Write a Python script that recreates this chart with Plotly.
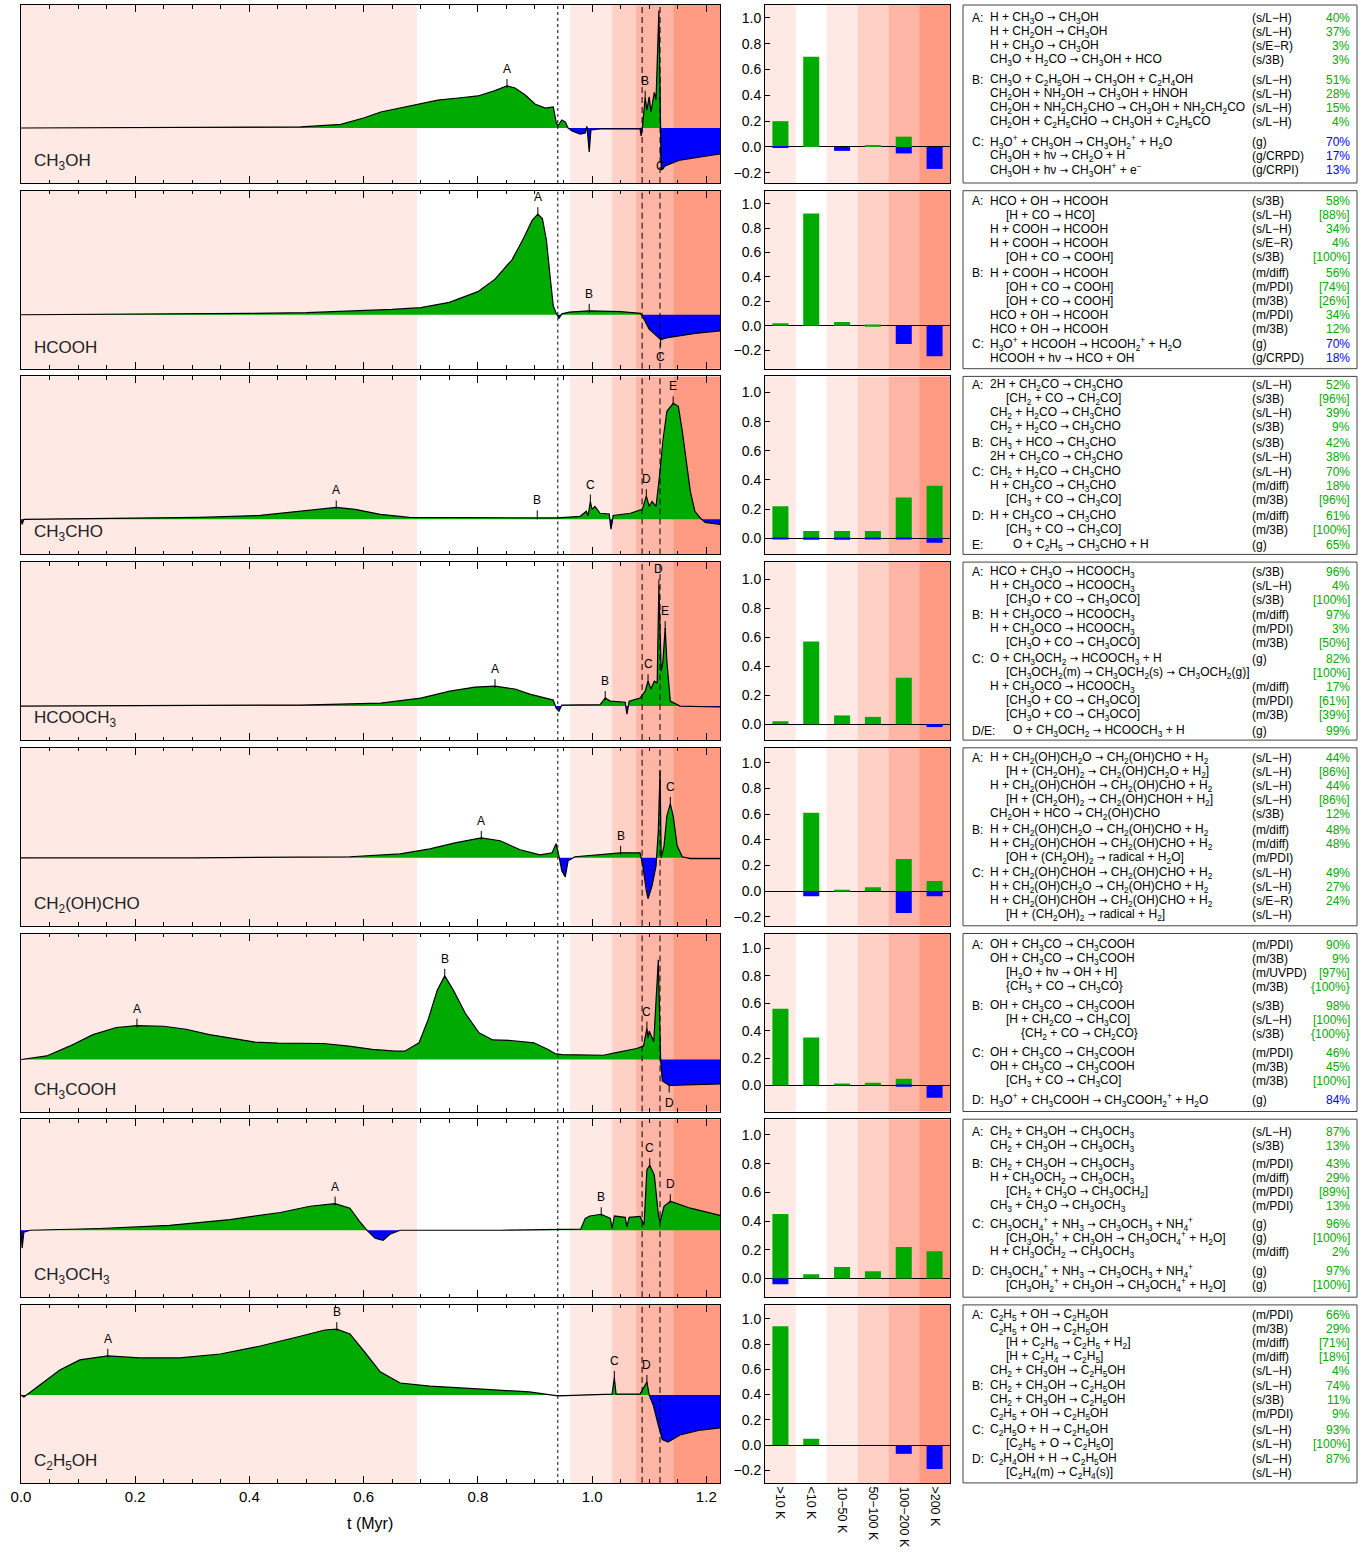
import re
import numpy as np
import plotly.graph_objects as go

# ---------------- canvas / style ----------------
W, H = 1369, 1560
FONT = "Liberation Sans, Arial, Helvetica, sans-serif"
GREEN = "#00AA00"
BLUE = "#0000FF"

# ---------------- evolutionary phases along t (Myr) ----------------
PHASE_EDGES = [0.0, 0.6935, 0.9615, 1.035, 1.077, 1.142, 1.224]
PHASE_COLORS = ["#FFE9E5", "#FFFFFF", "#FFE9E5", "#FFD1C6", "#FFB5A5", "#FF9B83"]
T_DOTTED = 0.940
T_DASHED = [1.0876, 1.119]
T_MAX = 1.224

TEMP_BINS = [">10 K", "<10 K", "10−50 K", "50−100 K", "100−200 K", ">200 K"]

MOLECULES = ["CH_3OH", "HCOOH", "CH_3CHO", "HCOOCH_3",
             "CH_2(OH)CHO", "CH_3COOH", "CH_3OCH_3", "C_2H_5OH"]

# ---------------- net formation rate vs time ----------------
t_ch3oh = [0.000, 0.200, 0.400, 0.490, 0.560, 0.600, 0.630, 0.660, 0.700, 0.730,
           0.770, 0.800, 0.830, 0.851, 0.865, 0.883, 0.900, 0.918, 0.932, 0.937,
           0.940, 0.947, 0.953, 0.958, 0.965, 0.979, 0.988, 0.991, 0.995, 0.998,
           1.014, 1.084, 1.086, 1.088, 1.093, 1.096, 1.100, 1.103, 1.109, 1.112,
           1.117, 1.121, 1.128, 1.154, 1.190, 1.224]
v_ch3oh = [0.000, 0.001, 0.003, 0.006, 0.020, 0.056, 0.090, 0.110, 0.135, 0.157,
           0.170, 0.180, 0.210, 0.236, 0.225, 0.185, 0.135, 0.112, 0.118, 0.034,
           0.011, 0.045, 0.034, 0.000, -0.017, -0.034, -0.028, 0.010, -0.135, -0.010,
           -0.005, -0.005, -0.045, 0.000, 0.170, 0.100, 0.175, 0.090, 0.200, 0.157,
           0.660, -0.236, -0.213, -0.180, -0.163, -0.146]

t_hcooh = [0.000, 0.200, 0.400, 0.500, 0.600, 0.650, 0.700, 0.750, 0.800, 0.830,
           0.860, 0.880, 0.895, 0.905, 0.913, 0.920, 0.927, 0.932, 0.937, 0.942,
           0.947, 0.960, 0.995, 1.050, 1.070, 1.085, 1.090, 1.100, 1.110, 1.120,
           1.130, 1.150, 1.180, 1.224]
v_hcooh = [0.000, 0.003, 0.008, 0.012, 0.022, 0.030, 0.040, 0.070, 0.130, 0.200,
           0.310, 0.430, 0.530, 0.565, 0.540, 0.420, 0.200, 0.050, 0.010, -0.020,
           0.005, 0.015, 0.022, 0.018, 0.012, 0.008, -0.020, -0.080, -0.110, -0.140,
           -0.130, -0.120, -0.105, -0.090]

t_ch3cho = [0.000, 0.002, 0.005, 0.138, 0.313, 0.419, 0.489, 0.524, 0.552, 0.585,
            0.629, 0.680, 0.751, 0.904, 0.940, 0.979, 0.990, 0.993, 0.997, 1.000,
            1.005, 1.014, 1.030, 1.033, 1.037, 1.067, 1.088, 1.095, 1.100, 1.105,
            1.112, 1.119, 1.124, 1.131, 1.142, 1.151, 1.158, 1.165, 1.172, 1.180,
            1.190, 1.198, 1.224]
v_ch3cho = [0.000, -0.028, 0.000, 0.006, 0.011, 0.022, 0.045, 0.056, 0.067, 0.056,
            0.028, 0.011, 0.011, 0.011, 0.008, 0.017, 0.045, 0.020, 0.100, 0.056,
            0.073, 0.034, 0.030, -0.056, 0.022, 0.034, 0.056, 0.130, 0.073, 0.100,
            0.073, 0.270, 0.440, 0.607, 0.652, 0.635, 0.494, 0.326, 0.157, 0.045,
            0.006, -0.017, -0.028]

t_hcooch3 = [0.000, 0.250, 0.489, 0.630, 0.700, 0.751, 0.795, 0.830, 0.865, 0.891,
             0.918, 0.932, 0.937, 0.942, 0.947, 0.979, 1.014, 1.023, 1.032, 1.058,
             1.061, 1.065, 1.084, 1.093, 1.098, 1.103, 1.109, 1.114, 1.117, 1.121,
             1.124, 1.128, 1.131, 1.137, 1.154, 1.224]
v_hcooch3 = [0.000, 0.001, 0.006, 0.017, 0.045, 0.084, 0.107, 0.112, 0.096, 0.067,
             0.045, 0.034, -0.011, -0.028, 0.006, 0.006, 0.008, 0.045, 0.028, 0.022,
             -0.045, 0.028, 0.045, 0.084, 0.140, 0.096, 0.140, 0.130, 0.674, 0.197,
             0.250, 0.438, 0.250, 0.028, 0.000, -0.005]

t_glyc = [0.000, 0.300, 0.576, 0.664, 0.716, 0.760, 0.806, 0.839, 0.874, 0.909,
          0.930, 0.937, 0.942, 0.947, 0.953, 0.958, 0.970, 1.014, 1.050, 1.084,
          1.088, 1.095, 1.098, 1.105, 1.112, 1.116, 1.119, 1.121, 1.126, 1.131,
          1.137, 1.142, 1.149, 1.158, 1.172, 1.224]
v_glyc = [0.000, 0.000, 0.006, 0.022, 0.050, 0.084, 0.112, 0.096, 0.045, 0.017,
          0.028, 0.079, 0.010, -0.073, -0.107, -0.017, 0.006, 0.017, 0.028, 0.028,
          -0.028, -0.185, -0.230, -0.157, -0.045, 0.150, 0.490, 0.000, 0.067, 0.236,
          0.303, 0.236, 0.067, 0.006, -0.005, -0.005]

t_acet = [0.000, 0.045, 0.085, 0.126, 0.167, 0.203, 0.250, 0.289, 0.330, 0.370,
          0.410, 0.450, 0.490, 0.530, 0.574, 0.615, 0.656, 0.672, 0.697, 0.713,
          0.729, 0.742, 0.757, 0.778, 0.802, 0.826, 0.858, 0.898, 0.923, 0.935,
          0.947, 1.020, 1.040, 1.078, 1.090, 1.096, 1.098, 1.100, 1.108, 1.116,
          1.120, 1.123, 1.135, 1.224]
v_acet = [0.000, 0.020, 0.075, 0.140, 0.180, 0.190, 0.187, 0.170, 0.140, 0.117,
          0.098, 0.092, 0.092, 0.090, 0.075, 0.057, 0.047, 0.047, 0.094, 0.225,
          0.390, 0.470, 0.390, 0.260, 0.150, 0.110, 0.107, 0.094, 0.056, 0.034,
          0.028, 0.024, 0.037, 0.062, 0.075, 0.174, 0.120, 0.160, 0.100, 0.560,
          0.000, -0.120, -0.146, -0.137]

t_dme = [0.000, 0.002, 0.005, 0.016, 0.138, 0.260, 0.366, 0.454, 0.506, 0.550,
         0.576, 0.594, 0.606, 0.620, 0.634, 0.646, 0.664, 0.840, 0.980, 0.988,
         0.996, 1.016, 1.032, 1.035, 1.039, 1.058, 1.061, 1.065, 1.084, 1.091,
         1.096, 1.101, 1.109, 1.116, 1.119, 1.126, 1.137, 1.172, 1.224]
v_dme = [0.000, -0.100, -0.010, 0.000, 0.010, 0.028, 0.060, 0.100, 0.135, 0.150,
         0.124, 0.045, 0.000, -0.045, -0.056, -0.022, 0.000, 0.000, 0.006, 0.067,
         0.080, 0.090, 0.067, 0.010, 0.080, 0.073, 0.020, 0.073, 0.078, 0.030,
         0.340, 0.365, 0.310, 0.090, 0.045, 0.135, 0.163, 0.124, 0.084]

t_etoh = [0.000, 0.005, 0.033, 0.068, 0.103, 0.152, 0.208, 0.278, 0.349, 0.419,
          0.489, 0.532, 0.553, 0.576, 0.602, 0.629, 0.664, 0.716, 0.800, 0.890,
          0.940, 1.014, 1.035, 1.039, 1.042, 1.084, 1.096, 1.100, 1.107, 1.116,
          1.123, 1.133, 1.154, 1.190, 1.224]
v_etoh = [0.000, -0.011, 0.056, 0.140, 0.197, 0.220, 0.208, 0.208, 0.230, 0.275,
          0.330, 0.365, 0.370, 0.343, 0.240, 0.130, 0.067, 0.050, 0.034, 0.017,
          -0.005, 0.005, 0.005, 0.095, 0.005, 0.005, 0.073, 0.000, -0.056, -0.170,
          -0.250, -0.264, -0.225, -0.197, -0.185]

# ---------------- labelled features (letter, t, direction[, anchor level]) ----------------
peaks_ch3oh = [("A", 0.851, 1), ("B", 1.093, 1), ("C", 1.1195, -1, -0.12)]
peaks_hcooh = [("A", 0.905, 1), ("B", 0.995, 1), ("C", 1.120, -1)]
peaks_ch3cho = [("A", 0.552, 1), ("B", 0.904, 1), ("C", 0.997, 1), ("D", 1.095, 1), ("E", 1.142, 1)]
peaks_hcooch3 = [("A", 0.830, 1), ("B", 1.023, 1), ("C", 1.098, 1), ("D", 1.117, 1), ("E", 1.128, 1)]
peaks_glyc = [("A", 0.806, 1), ("B", 1.050, 1), ("C", 1.137, 1)]
peaks_acet = [("A", 0.203, 1), ("B", 0.742, 1), ("C", 1.096, 1), ("D", 1.135, -1)]
peaks_dme = [("A", 0.550, 1), ("B", 1.016, 1), ("C", 1.101, 1), ("D", 1.137, 1)]
peaks_etoh = [("A", 0.152, 1), ("B", 0.553, 1), ("C", 1.039, 1), ("D", 1.096, 1)]

# ---------------- fractional formation / destruction per temperature bin ----------------
form_ch3oh = [0.20, 0.70, 0.00, 0.01, 0.08, 0.00]
dest_ch3oh = [-0.005, 0.00, -0.03, 0.00, -0.05, -0.17]
form_hcooh = [0.02, 0.92, 0.03, 0.01, 0.00, 0.00]
dest_hcooh = [0.00, 0.00, 0.00, 0.00, -0.15, -0.25]
form_ch3cho = [0.22, 0.05, 0.05, 0.05, 0.28, 0.36]
dest_ch3cho = [-0.005, -0.01, -0.01, -0.005, -0.005, -0.03]
form_hcooch3 = [0.02, 0.57, 0.06, 0.05, 0.32, 0.00]
dest_hcooch3 = [0.00, 0.00, 0.00, 0.00, 0.00, -0.02]
form_glyc = [0.00, 0.61, 0.005, 0.03, 0.25, 0.08]
dest_glyc = [0.00, -0.04, 0.00, 0.00, -0.17, -0.04]
form_acet = [0.56, 0.35, 0.01, 0.02, 0.05, 0.00]
dest_acet = [0.00, 0.00, 0.00, 0.00, -0.01, -0.09]
form_dme = [0.45, 0.03, 0.08, 0.05, 0.22, 0.19]
dest_dme = [-0.04, 0.00, 0.00, 0.00, 0.00, 0.00]
form_etoh = [0.94, 0.05, 0.00, 0.00, 0.00, 0.00]
dest_etoh = [0.00, 0.00, 0.00, 0.00, -0.07, -0.19]

# ---------------- dominant reactions: (label, sign, [(indent, reaction, type, share)]) ----------------
reac_ch3oh = [
    ("A:", "+", [
        (0, "H + CH_3O → CH_3OH", "(s/L−H)", "40%"),
        (0, "H + CH_2OH → CH_3OH", "(s/L−H)", "37%"),
        (0, "H + CH_3O → CH_3OH", "(s/E−R)", "3%"),
        (0, "CH_3O + H_2CO → CH_3OH + HCO", "(s/3B)", "3%")]),
    ("B:", "+", [
        (0, "CH_3O + C_2H_5OH → CH_3OH + C_2H_4OH", "(s/L−H)", "51%"),
        (0, "CH_2OH + NH_2OH → CH_3OH + HNOH", "(s/L−H)", "28%"),
        (0, "CH_2OH + NH_2CH_2CHO → CH_3OH + NH_2CH_2CO", "(s/L−H)", "15%"),
        (0, "CH_2OH + C_2H_5CHO → CH_3OH + C_2H_5CO", "(s/L−H)", "4%")]),
    ("C:", "−", [
        (0, "H_3O^+ + CH_3OH → CH_3OH_2^+ + H_2O", "(g)", "70%"),
        (0, "CH_3OH + hν → CH_2O + H", "(g/CRPD)", "17%"),
        (0, "CH_3OH + hν → CH_3OH^+ + e^−", "(g/CRPI)", "13%")]),
]
reac_hcooh = [
    ("A:", "+", [
        (0, "HCO + OH → HCOOH", "(s/3B)", "58%"),
        (1, "[H + CO → HCO]", "(s/L−H)", "[88%]"),
        (0, "H + COOH → HCOOH", "(s/L−H)", "34%"),
        (0, "H + COOH → HCOOH", "(s/E−R)", "4%"),
        (1, "[OH + CO → COOH]", "(s/3B)", "[100%]")]),
    ("B:", "+", [
        (0, "H + COOH → HCOOH", "(m/diff)", "56%"),
        (1, "[OH + CO → COOH]", "(m/PDI)", "[74%]"),
        (1, "[OH + CO → COOH]", "(m/3B)", "[26%]"),
        (0, "HCO + OH → HCOOH", "(m/PDI)", "34%"),
        (0, "HCO + OH → HCOOH", "(m/3B)", "12%")]),
    ("C:", "−", [
        (0, "H_3O^+ + HCOOH → HCOOH_2^+ + H_2O", "(g)", "70%"),
        (0, "HCOOH + hν → HCO + OH", "(g/CRPD)", "18%")]),
]
reac_ch3cho = [
    ("A:", "+", [
        (0, "2H + CH_2CO → CH_3CHO", "(s/L−H)", "52%"),
        (1, "[CH_2 + CO → CH_2CO]", "(s/3B)", "[96%]"),
        (0, "CH_2 + H_2CO → CH_3CHO", "(s/L−H)", "39%"),
        (0, "CH_2 + H_2CO → CH_3CHO", "(s/3B)", "9%")]),
    ("B:", "+", [
        (0, "CH_3 + HCO → CH_3CHO", "(s/3B)", "42%"),
        (0, "2H + CH_2CO → CH_3CHO", "(s/L−H)", "38%")]),
    ("C:", "+", [
        (0, "CH_2 + H_2CO → CH_3CHO", "(s/L−H)", "70%"),
        (0, "H + CH_3CO → CH_3CHO", "(m/diff)", "18%"),
        (1, "[CH_3 + CO → CH_3CO]", "(m/3B)", "[96%]")]),
    ("D:", "+", [
        (0, "H + CH_3CO → CH_3CHO", "(m/diff)", "61%"),
        (1, "[CH_3 + CO → CH_3CO]", "(m/3B)", "[100%]")]),
    ("E:", "+", [
        (1.5, "O + C_2H_5 → CH_3CHO + H", "(g)", "65%")]),
]
reac_hcooch3 = [
    ("A:", "+", [
        (0, "HCO + CH_3O → HCOOCH_3", "(s/3B)", "96%"),
        (0, "H + CH_3OCO → HCOOCH_3", "(s/L−H)", "4%"),
        (1, "[CH_3O + CO → CH_3OCO]", "(s/3B)", "[100%]")]),
    ("B:", "+", [
        (0, "H + CH_3OCO → HCOOCH_3", "(m/diff)", "97%"),
        (0, "H + CH_3OCO → HCOOCH_3", "(m/PDI)", "3%"),
        (1, "[CH_3O + CO → CH_3OCO]", "(m/3B)", "[50%]")]),
    ("C:", "+", [
        (0, "O + CH_3OCH_2 → HCOOCH_3 + H", "(g)", "82%"),
        (1, "[CH_3OCH_2(m) → CH_3OCH_2(s) → CH_3OCH_2(g)]", "", "[100%]"),
        (0, "H + CH_3OCO → HCOOCH_3", "(m/diff)", "17%"),
        (1, "[CH_3O + CO → CH_3OCO]", "(m/PDI)", "[61%]"),
        (1, "[CH_3O + CO → CH_3OCO]", "(m/3B)", "[39%]")]),
    ("D/E:", "+", [
        (1.5, "O + CH_3OCH_2 → HCOOCH_3 + H", "(g)", "99%")]),
]
reac_glyc = [
    ("A:", "+", [
        (0, "H + CH_2(OH)CH_2O → CH_2(OH)CHO + H_2", "(s/L−H)", "44%"),
        (1, "[H + (CH_2OH)_2 → CH_2(OH)CH_2O + H_2]", "(s/L−H)", "[86%]"),
        (0, "H + CH_2(OH)CHOH → CH_2(OH)CHO + H_2", "(s/L−H)", "44%"),
        (1, "[H + (CH_2OH)_2 → CH_2(OH)CHOH + H_2]", "(s/L−H)", "[86%]"),
        (0, "CH_2OH + HCO → CH_2(OH)CHO", "(s/3B)", "12%")]),
    ("B:", "+", [
        (0, "H + CH_2(OH)CH_2O → CH_2(OH)CHO + H_2", "(m/diff)", "48%"),
        (0, "H + CH_2(OH)CHOH → CH_2(OH)CHO + H_2", "(m/diff)", "48%"),
        (1, "[OH + (CH_2OH)_2 → radical + H_2O]", "(m/PDI)", "")]),
    ("C:", "+", [
        (0, "H + CH_2(OH)CHOH → CH_2(OH)CHO + H_2", "(s/L−H)", "49%"),
        (0, "H + CH_2(OH)CH_2O → CH_2(OH)CHO + H_2", "(s/L−H)", "27%"),
        (0, "H + CH_2(OH)CHOH → CH_2(OH)CHO + H_2", "(s/E−R)", "24%"),
        (1, "[H + (CH_2OH)_2 → radical + H_2]", "(s/L−H)", "")]),
]
reac_acet = [
    ("A:", "+", [
        (0, "OH + CH_3CO → CH_3COOH", "(m/PDI)", "90%"),
        (0, "OH + CH_3CO → CH_3COOH", "(m/3B)", "9%"),
        (1, "[H_2O + hν → OH + H]", "(m/UVPD)", "[97%]"),
        (1, "{CH_3 + CO → CH_3CO}", "(m/3B)", "{100%}")]),
    ("B:", "+", [
        (0, "OH + CH_3CO → CH_3COOH", "(s/3B)", "98%"),
        (1, "[H + CH_2CO → CH_3CO]", "(s/L−H)", "[100%]"),
        (2, "{CH_2 + CO → CH_2CO}", "(s/3B)", "{100%}")]),
    ("C:", "+", [
        (0, "OH + CH_3CO → CH_3COOH", "(m/PDI)", "46%"),
        (0, "OH + CH_3CO → CH_3COOH", "(m/3B)", "45%"),
        (1, "[CH_3 + CO → CH_3CO]", "(m/3B)", "[100%]")]),
    ("D:", "−", [
        (0, "H_3O^+ + CH_3COOH → CH_3COOH_2^+ + H_2O", "(g)", "84%")]),
]
reac_dme = [
    ("A:", "+", [
        (0, "CH_2 + CH_3OH → CH_3OCH_3", "(s/L−H)", "87%"),
        (0, "CH_2 + CH_3OH → CH_3OCH_3", "(s/3B)", "13%")]),
    ("B:", "+", [
        (0, "CH_2 + CH_3OH → CH_3OCH_3", "(m/PDI)", "43%"),
        (0, "H + CH_3OCH_2 → CH_3OCH_3", "(m/diff)", "29%"),
        (1, "[CH_2 + CH_3O → CH_3OCH_2]", "(m/PDI)", "[89%]"),
        (0, "CH_3 + CH_3O → CH_3OCH_3", "(m/PDI)", "13%")]),
    ("C:", "+", [
        (0, "CH_3OCH_4^+ + NH_3 → CH_3OCH_3 + NH_4^+", "(g)", "96%"),
        (1, "[CH_3OH_2^+ + CH_3OH → CH_3OCH_4^+ + H_2O]", "(g)", "[100%]"),
        (0, "H + CH_3OCH_2 → CH_3OCH_3", "(m/diff)", "2%")]),
    ("D:", "+", [
        (0, "CH_3OCH_4^+ + NH_3 → CH_3OCH_3 + NH_4^+", "(g)", "97%"),
        (1, "[CH_3OH_2^+ + CH_3OH → CH_3OCH_4^+ + H_2O]", "(g)", "[100%]")]),
]
reac_etoh = [
    ("A:", "+", [
        (0, "C_2H_5 + OH → C_2H_5OH", "(m/PDI)", "66%"),
        (0, "C_2H_5 + OH → C_2H_5OH", "(m/3B)", "29%"),
        (1, "[H + C_2H_6 → C_2H_5 + H_2]", "(m/diff)", "[71%]"),
        (1, "[H + C_2H_4 → C_2H_5]", "(m/diff)", "[18%]"),
        (0, "CH_2 + CH_3OH → C_2H_5OH", "(s/L−H)", "4%")]),
    ("B:", "+", [
        (0, "CH_2 + CH_3OH → C_2H_5OH", "(s/L−H)", "74%"),
        (0, "CH_2 + CH_3OH → C_2H_5OH", "(s/3B)", "11%"),
        (0, "C_2H_5 + OH → C_2H_5OH", "(m/PDI)", "9%")]),
    ("C:", "+", [
        (0, "C_2H_5O + H → C_2H_5OH", "(s/L−H)", "93%"),
        (1, "[C_2H_5 + O → C_2H_5O]", "(s/L−H)", "[100%]")]),
    ("D:", "+", [
        (0, "C_2H_4OH + H → C_2H_5OH", "(s/L−H)", "87%"),
        (1, "[C_2H_4(m) → C_2H_4(s)]", "(s/L−H)", "")]),
]

SERIES = [(t_ch3oh, v_ch3oh), (t_hcooh, v_hcooh), (t_ch3cho, v_ch3cho), (t_hcooch3, v_hcooch3),
          (t_glyc, v_glyc), (t_acet, v_acet), (t_dme, v_dme), (t_etoh, v_etoh)]
PEAKS = [peaks_ch3oh, peaks_hcooh, peaks_ch3cho, peaks_hcooch3,
         peaks_glyc, peaks_acet, peaks_dme, peaks_etoh]
BARS = [(form_ch3oh, dest_ch3oh), (form_hcooh, dest_hcooh), (form_ch3cho, dest_ch3cho),
        (form_hcooch3, dest_hcooch3), (form_glyc, dest_glyc), (form_acet, dest_acet),
        (form_dme, dest_dme), (form_etoh, dest_etoh)]
REACTIONS = [reac_ch3oh, reac_hcooh, reac_ch3cho, reac_hcooch3,
             reac_glyc, reac_acet, reac_dme, reac_etoh]

# ---------------- panel geometry (pixels) ----------------
ROW_TOP0, ROW_STEP, ROW_H = 5.0, 185.7, 178.0
LEFT_PX = (21, 720)
BAR_PX = (765, 950)
BOX_PX = (963, 1357)
LEFT_ZERO = [0.309, 0.303, 0.197, 0.191, 0.382, 0.292, 0.376, 0.494]
BAR_YRANGE = [(-0.279, 1.10), (-0.352, 1.107), (-0.11, 1.11), (-0.11, 1.117),
              (-0.27, 1.117), (-0.19, 1.11), (-0.13, 1.11), (-0.30, 1.11)]
TABLE_GAP = [6, 1.5, 1.5, 1.7, 1.5, 5, 4.3, 1.3]
LINE_STEP = 14.0
TXT_SIZE = 12
ARROW = '<span style="font-family:DejaVu Sans;font-size:10px">→</span>'


def px_x(p):
    return p / W


def px_y(p):
    return 1 - p / H


def chem(s):
    s = re.sub(r"_(\d)", r"<sub>\1</sub>", s)
    s = re.sub(r"\^([+−])", r"<sup>\1</sup>", s)
    return s


def spaced(s):
    return chem(s).replace(" ", "\u00a0").replace("→", ARROW)


def split_sign(t, v):
    """Insert zero crossings so positive and negative parts fill cleanly."""
    ts, vs = [t[0]], [v[0]]
    for i in range(1, len(t)):
        a, b = v[i - 1], v[i]
        if a * b < 0:
            ts.append(t[i - 1] + (t[i] - t[i - 1]) * a / (a - b))
            vs.append(0.0)
        ts.append(t[i])
        vs.append(v[i])
    vs = np.array(vs)
    return np.array(ts), np.clip(vs, 0, None), np.clip(vs, None, 0)


def ref(letter, n):
    return letter if n == 1 else f"{letter}{n}"


fig = go.Figure()
shapes, annotations, axes = [], [], {}

for i in range(8):
    top = ROW_TOP0 + i * ROW_STEP
    ydom = [px_y(top + ROW_H), px_y(top)]
    nl, nb = 2 * i + 1, 2 * i + 2
    xl, yl, xb, yb = ref("x", nl), ref("y", nl), ref("x", nb), ref("y", nb)
    last = i == 7

    # ---- time evolution panel ----
    t, v = SERIES[i]
    ts, vp, vn = split_sign(t, v)
    fig.add_trace(go.Scatter(x=ts, y=vp, mode="lines", fill="tozeroy", fillcolor=GREEN,
                             line=dict(width=0, color=GREEN), xaxis=xl, yaxis=yl,
                             hoverinfo="skip", showlegend=False))
    fig.add_trace(go.Scatter(x=ts, y=vn, mode="lines", fill="tozeroy", fillcolor=BLUE,
                             line=dict(width=0, color=BLUE), xaxis=xl, yaxis=yl,
                             hoverinfo="skip", showlegend=False))
    fig.add_trace(go.Scatter(x=t, y=v, mode="lines", line=dict(color="black", width=1.2),
                             xaxis=xl, yaxis=yl, showlegend=False))

    f0 = LEFT_ZERO[i]
    axes["xaxis" if nl == 1 else f"xaxis{nl}"] = dict(
        domain=[px_x(LEFT_PX[0]), px_x(LEFT_PX[1])], anchor=yl, range=[0, T_MAX],
        automargin=False,
        showline=True, linecolor="black", linewidth=1, mirror="allticks",
        ticks="inside", ticklen=7, tickcolor="black", tick0=0, dtick=0.2,
        tickformat=".1f", showgrid=False, zeroline=False, showticklabels=last,
        tickfont=dict(family=FONT, size=15, color="black"),
        minor=dict(dtick=0.05, ticks="inside", ticklen=3.5, tickcolor="black", showgrid=False))
    axes[f"yaxis{'' if nl == 1 else nl}"] = dict(
        domain=ydom, anchor=xl, range=[-f0, 1 - f0], showline=True, linecolor="black",
        automargin=False,
        linewidth=1, mirror=True, ticks="", showticklabels=False, showgrid=False, zeroline=False)

    for j in range(len(PHASE_COLORS)):
        shapes.append(dict(type="rect", xref=xl, yref=f"{yl} domain",
                           x0=PHASE_EDGES[j], x1=PHASE_EDGES[j + 1], y0=0, y1=1,
                           fillcolor=PHASE_COLORS[j], line=dict(width=0), layer="below"))
    shapes.append(dict(type="line", xref=xl, yref=f"{yl} domain", x0=T_DOTTED, x1=T_DOTTED,
                       y0=0, y1=1, line=dict(color="black", width=1, dash="dot"), layer="above"))
    for td in T_DASHED:
        shapes.append(dict(type="line", xref=xl, yref=f"{yl} domain", x0=td, x1=td,
                           y0=0, y1=1, line=dict(color="black", width=1, dash="6px,4px"),
                           layer="above"))

    unit = 1.0 / ROW_H
    for pk in PEAKS[i]:
        letter, tp, d = pk[:3]
        yv = pk[3] if len(pk) > 3 else float(np.interp(tp, t, v))
        shapes.append(dict(type="line", xref=xl, yref=yl, x0=tp, x1=tp,
                           y0=yv - d * 2 * unit, y1=yv + d * 7 * unit,
                           line=dict(color="black", width=1), layer="above"))
        annotations.append(dict(xref=xl, yref=yl, x=tp, y=yv + d * 8 * unit, text=letter,
                                showarrow=False, xanchor="center",
                                yanchor="bottom" if d > 0 else "top",
                                font=dict(family=FONT, size=12, color="black")))

    annotations.append(dict(xref=f"{xl} domain", yref=f"{yl} domain", x=0.016, y=21 / ROW_H,
                            text=chem(MOLECULES[i]), showarrow=False, xanchor="left",
                            yanchor="middle", font=dict(family=FONT, size=17, color="#222")))

    # ---- temperature-bin bar panel ----
    form, dest = BARS[i]
    xpos = list(range(len(TEMP_BINS)))
    fig.add_trace(go.Bar(x=xpos, y=form, width=0.52, marker=dict(color=GREEN, line=dict(width=0)),
                         xaxis=xb, yaxis=yb, showlegend=False))
    fig.add_trace(go.Bar(x=xpos, y=dest, width=0.52, marker=dict(color=BLUE, line=dict(width=0)),
                         xaxis=xb, yaxis=yb, showlegend=False))
    axes[f"xaxis{nb}"] = dict(
        domain=[px_x(BAR_PX[0]), px_x(BAR_PX[1])], anchor=yb, range=[-0.5, len(TEMP_BINS) - 0.5],
        automargin=False,
        showline=True, linecolor="black", linewidth=1, mirror=True, ticks="",
        tickvals=xpos, ticktext=TEMP_BINS, tickangle=90, showticklabels=last,
        showgrid=False, zeroline=False, tickfont=dict(family=FONT, size=12.5, color="black"))
    axes[f"yaxis{nb}"] = dict(
        domain=ydom, anchor=xb, range=list(BAR_YRANGE[i]), showline=True, linecolor="black",
        automargin=False,
        linewidth=1, mirror=True, ticks="inside", ticklen=5, tickcolor="black", tick0=0,
        dtick=0.2, tickformat=".1f", showgrid=False, zeroline=True, zerolinecolor="black",
        zerolinewidth=1, tickfont=dict(family=FONT, size=14, color="black"))
    for j in range(len(TEMP_BINS)):
        shapes.append(dict(type="rect", xref=xb, yref=f"{yb} domain", x0=j - 0.5, x1=j + 0.5,
                           y0=0, y1=1, fillcolor=PHASE_COLORS[j], line=dict(width=0),
                           layer="below"))

    # ---- reaction table ----
    shapes.append(dict(type="rect", xref="paper", yref="paper",
                       x0=px_x(BOX_PX[0]), x1=px_x(BOX_PX[1]), y0=ydom[0], y1=ydom[1],
                       line=dict(color="#444", width=1), fillcolor="rgba(0,0,0,0)"))
    groups = REACTIONS[i]
    nlines = sum(len(g[2]) for g in groups)
    gap = TABLE_GAP[i]
    block = LINE_STEP * (nlines - 1) + gap * (len(groups) - 1)
    ypx = top + ROW_H / 2 - block / 2
    for gi, (lab, sign, lines) in enumerate(groups):
        col = GREEN if sign == "+" else BLUE
        for li, (indent, reac, kind, share) in enumerate(lines):
            yy = px_y(ypx)
            base = dict(xref="paper", yref="paper", y=yy, yanchor="middle", showarrow=False,
                        font=dict(family=FONT, size=TXT_SIZE, color="black"))
            if li == 0:
                annotations.append(dict(base, x=px_x(970), xanchor="left", text=lab))
            annotations.append(dict(base, x=px_x(988 + 15.5 * indent), xanchor="left",
                                    text=spaced(reac)))
            if kind:
                annotations.append(dict(base, x=px_x(1250), xanchor="left", text=kind))
            if share:
                annotations.append(dict(base, x=px_x(1352), xanchor="right", text=share,
                                        font=dict(family=FONT, size=TXT_SIZE, color=col)))
            ypx += LINE_STEP
        ypx += gap

annotations.append(dict(xref="paper", yref="paper", x=px_x(370), y=px_y(1523), text="t (Myr)",
                        showarrow=False, xanchor="center", yanchor="middle",
                        font=dict(family=FONT, size=16, color="black")))

fig.update_layout(width=W, height=H, margin=dict(l=0, r=0, t=0, b=0),
                  paper_bgcolor="white", plot_bgcolor="white", barmode="overlay",
                  shapes=shapes, annotations=annotations, showlegend=False,
                  font=dict(family=FONT), **axes)

fig.write_html("out.html")
